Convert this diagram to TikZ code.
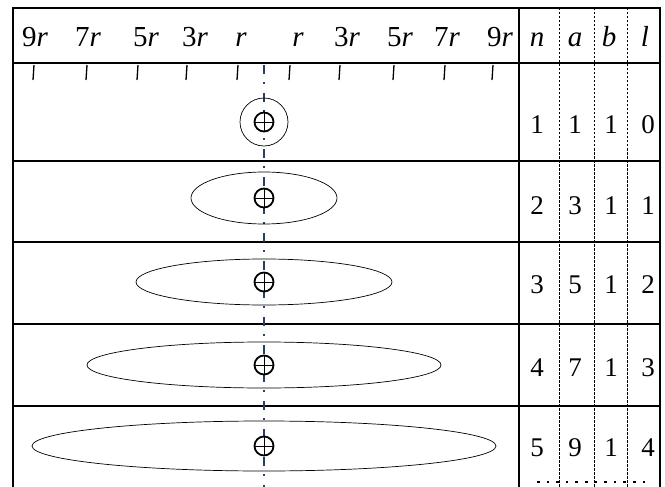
\documentclass[tikz,border=0pt]{standalone}
\usepackage{fontspec}
\setmainfont{Liberation Serif}
\begin{document}
\begin{tikzpicture}[x=1pt,y=-1pt,
  frame/.style={line width=1.6pt,black},
  coldash/.style={line width=0.7pt,dash pattern=on 2.5pt off 1.5pt},
  tick/.style={line width=1.3pt},
  ell/.style={line width=0.7pt},
  axisline/.style={line width=2pt,color={rgb,255:red,38;green,62;blue,105},dash pattern=on 9pt off 8pt on 2pt off 9pt},
  plusc/.style={line width=1.8pt},
  hdr/.style={font=\fontsize{29}{31}\selectfont,inner sep=0pt,anchor=base},
  num/.style={font=\fontsize{27}{29}\selectfont,inner sep=0pt,anchor=base}]
\useasboundingbox (0,0) rectangle (665,487);
% frame
\draw[frame] (13,487) -- (13,8) -- (660,8) -- (660,487);
\draw[frame] (13,63) -- (660,63);
\foreach \y in {161,242,324,406} \draw[frame] (13,\y) -- (660,\y);
\draw[line width=1.4pt] (519,8) -- (519,487);
\foreach \x in {559,594,627} \draw[coldash] (\x,8) -- (\x,487);
% header labels
\foreach \x/\t [count=\i] in {35/9,88/7,146/5,195/3,241/,298/,347/3,400/5,447/7,500/9}
  \node[hdr] (h\i) at (\x,47) {\t\textit{r}};
\foreach \x/\t in {537/n,575/a,609/b,645/l}
  \node[hdr] (c\t) at (\x,47) {\textit{\t}};
% ticks
\foreach \x in {33,86,137,186,237,289,339,393,444,492}
  \draw[tick] (\x+1,65) -- (\x,80);
% axis
\draw[axisline] (264,65) -- (264,487);
% shapes
\draw[ell] (264,122) circle[radius=24];
\draw[ell] (264,198) ellipse[x radius=73,y radius=26];
\draw[ell] (264,282) ellipse[x radius=128,y radius=23];
\draw[ell] (264,365) ellipse[x radius=177,y radius=23];
\draw[ell] (264,446) ellipse[x radius=232,y radius=25];
\foreach \y in {122,198,282,365,446} {
  \draw[plusc,fill=white] (264,\y) circle[radius=9.5];
  \draw[line width=0.8pt] (264,\y-9.5) -- (264,\y+9.5) (254.5,\y) -- (273.5,\y);
}
% numbers
\foreach \r/\y/\n/\a/\b/\l in {1/133/1/1/1/0,2/214/2/3/1/1,3/293/3/5/1/2,4/376/4/7/1/3,5/456/5/9/1/4} {
  \node[num] (n\r) at (537,\y) {\n};
  \node[num] (a\r) at (575,\y) {\a};
  \node[num] (b\r) at (611,\y) {\b};
  \node[num] (l\r) at (648,\y) {\l};
}
% dotted continuation
\draw[line width=2.6pt,dash pattern=on 2.6pt off 7pt] (537,482) -- (645,482);
\end{tikzpicture}
\end{document}
